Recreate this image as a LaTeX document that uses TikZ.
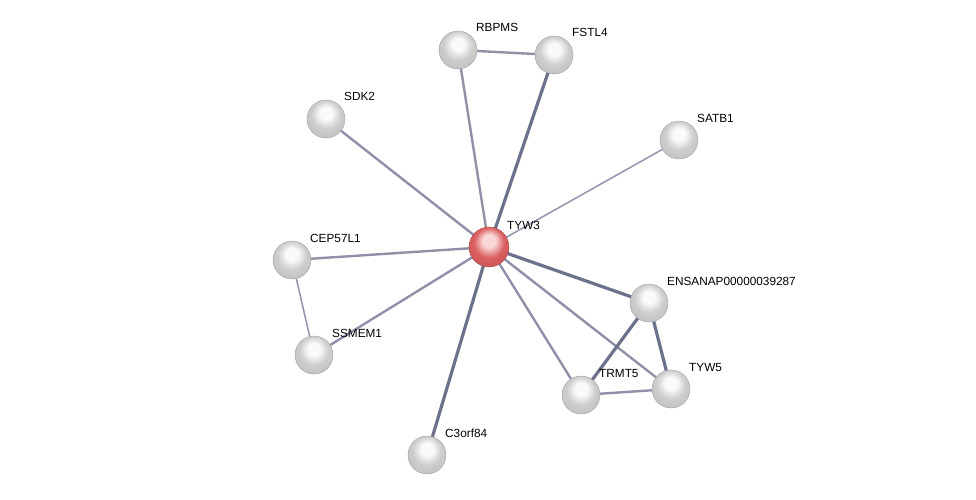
\documentclass[tikz,border=0pt]{standalone}
\usepackage{fontspec}
\setmainfont{Liberation Sans}
\usetikzlibrary{calc, backgrounds}
\definecolor{cEdge}{RGB}{150,153,175}
\definecolor{cEdgeDark}{RGB}{108,114,140}
\definecolor{cBallHi}{RGB}{250,250,250}
\definecolor{cBallMid}{RGB}{205,205,205}
\definecolor{cBallRim}{RGB}{140,140,140}
\definecolor{cQueryHi}{RGB}{250,215,215}
\definecolor{cQueryMid}{RGB}{218,95,95}
\definecolor{cQueryRim}{RGB}{155,45,45}
\pgfdeclareradialshading{protball}{\pgfpoint{0bp}{9bp}}{%
  color(0bp)=(cBallHi); color(8bp)=(cBallHi); color(19bp)=(cBallMid);
  color(29bp)=(cBallMid!85!cBallRim); color(34bp)=(cBallRim); color(50bp)=(cBallRim)}
\pgfdeclareradialshading{queryball}{\pgfpoint{0bp}{9bp}}{%
  color(0bp)=(cQueryHi); color(8bp)=(cQueryHi); color(19bp)=(cQueryMid);
  color(29bp)=(cQueryMid!85!cQueryRim); color(34bp)=(cQueryRim); color(50bp)=(cQueryRim)}
\tikzset{
  protnode/.style={circle, minimum size=38pt, inner sep=0pt,
                   shading=protball, draw=gray!75, line width=0.4pt},
  querynode/.style={protnode, minimum size=40pt, shading=queryball,
                    draw=red!50!black!70},
  lbl/.style={anchor=base west, inner sep=0pt, font=\fontsize{11.8}{13}\selectfont},
  thinedge/.style={draw=cEdge, line width=1.6pt},
  midedge/.style={draw=cEdge!80!cEdgeDark, line width=2.4pt},
  thickedge/.style={draw=cEdgeDark, line width=3.2pt}
}

\begin{document}
\begin{tikzpicture}[x=1pt, y=-1pt]
  \useasboundingbox (0,0) rectangle (976,500);

  % -- proteins --
  \node[querynode] (tyw3) at (489,247) {};
  \node[protnode] (rbpms)  at (458,50)  {};
  \node[protnode] (fstl4)  at (554,55)  {};
  \node[protnode] (sdk2)   at (326,119) {};
  \node[protnode] (satb1)  at (679,140) {};
  \node[protnode] (cep57l1) at (292,260) {};
  \node[protnode] (ssmem1) at (314,355) {};
  \node[protnode] (ensanap) at (649,303) {};
  \node[protnode] (trmt5)  at (581,395) {};
  \node[protnode] (tyw5)   at (671,389) {};
  \node[protnode] (c3orf84) at (427,455) {};

  % -- labels --
  \node[lbl] (tyw3_l)    at ($(tyw3)+(18,-18)$)    {TYW3};
  \node[lbl] (rbpms_l)   at ($(rbpms)+(18,-18)$)   {RBPMS};
  \node[lbl] (fstl4_l)   at ($(fstl4)+(18,-18)$)   {FSTL4};
  \node[lbl] (sdk2_l)    at ($(sdk2)+(18,-18)$)    {SDK2};
  \node[lbl] (satb1_l)   at ($(satb1)+(18,-18)$)   {SATB1};
  \node[lbl] (cep57l1_l) at ($(cep57l1)+(18,-18)$) {CEP57L1};
  \node[lbl] (ssmem1_l)  at ($(ssmem1)+(18,-18)$)  {SSMEM1};
  \node[lbl] (ensanap_l) at ($(ensanap)+(18,-18)$) {ENSANAP00000039287};
  \node[lbl] (trmt5_l)   at ($(trmt5)+(18,-18)$)   {TRMT5};
  \node[lbl] (tyw5_l)    at ($(tyw5)+(18,-18)$)    {TYW5};
  \node[lbl] (c3orf84_l) at ($(c3orf84)+(18,-18)$) {C3orf84};

  % -- edges --
  \begin{pgfonlayer}{background}
    \draw[midedge]   (tyw3.center) -- (rbpms.center);
    \draw[thickedge] (tyw3.center) -- (fstl4.center);
    \draw[midedge]   (rbpms.center) -- (fstl4.center);
    \draw[midedge]   (tyw3.center) -- (sdk2.center);
    \draw[thinedge]  (tyw3.center) -- (satb1.center);
    \draw[midedge]   (tyw3.center) -- (cep57l1.center);
    \draw[midedge]   (tyw3.center) -- (ssmem1.center);
    \draw[thickedge] (tyw3.center) -- (c3orf84.center);
    \draw[thickedge] (tyw3.center) -- (ensanap.center);
    \draw[midedge]   (tyw3.center) -- (trmt5.center);
    \draw[midedge]   (tyw3.center) -- (tyw5.center);
    \draw[thinedge]  (cep57l1.center) -- (ssmem1.center);
    \draw[thickedge] (ensanap.center) -- (trmt5.center);
    \draw[thickedge] (ensanap.center) -- (tyw5.center);
    \draw[midedge]   (trmt5.center) -- (tyw5.center);
  \end{pgfonlayer}

\end{tikzpicture}
\end{document}
